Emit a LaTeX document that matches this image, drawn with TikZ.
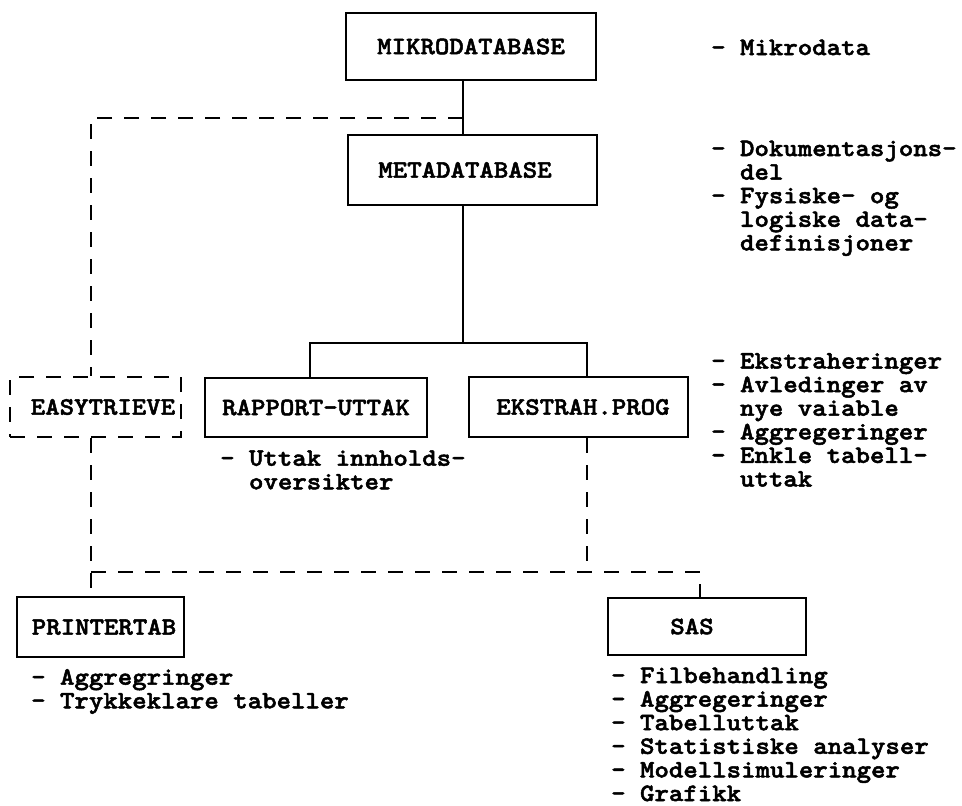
\documentclass[tikz,border=0pt]{standalone}
\usepackage{fontspec}
\newfontfamily\tw{lmmonolt10-bold.otf}[FakeStretch=1.1,FakeBold=2]
\newcommand\myfont{\tw\fontsize{25}{23.6}\selectfont\lineskiplimit=-100pt\relax}
\begin{document}
\begin{tikzpicture}[x=1pt,y=-1pt,
  every node/.style={font=\myfont},
  box/.style={draw,line width=2.8pt,inner sep=0pt,align=center},
  dbox/.style={box,dash pattern=on 15pt off 12pt},
  txt/.style={anchor=base west,inner sep=0pt,align=left},
  conn/.style={line width=2.6pt},
  dconn/.style={line width=2.6pt,dash pattern=on 15pt off 12pt}]
\useasboundingbox (0,0) rectangle (962,806);
\fill[white] (0,0) rectangle (962,806);
% boxes
\node[box,minimum width=250pt,minimum height=67pt] (mikro) at (471,46.5) {MIKRODATABASE};
\node[box,minimum width=249pt,minimum height=70pt] (meta) at (472.5,170) {METADATABASE\hspace{15pt}};
\node[dbox,minimum width=171pt,minimum height=60pt] (easy) at (95.5,407) {\hspace{15pt}EASYTRIEVE};
\node[box,minimum width=222pt,minimum height=59pt] (rap) at (316,407.5) {RAPPORT-UTTAK};
\node[box,minimum width=219pt,minimum height=60pt] (eks) at (578.5,407) {\hspace{9pt}EKSTRAH.PROG};
\node[box,minimum width=167pt,minimum height=60pt] (prt) at (100.5,627) {\hspace{7pt}PRINTERTAB};
\node[box,minimum width=198pt,minimum height=57pt] (sas) at (707,626.5) {SAS\hspace{30pt}};
% texts (anchored at the baseline of the last line)
\node[txt] (tmikro) at (711,55) {- Mikrodata};
\node[txt] (tmeta) at (711,250.4) {- Dokumentasjons-\\\hphantom{xx}del\\- Fysiske- og\\\hphantom{xx}logiske data-\\\hphantom{xx}definisjoner};
\node[txt] (teks) at (711,486.5) {- Ekstraheringer\\- Avledinger av\\\hphantom{xx}nye vaiable\\- Aggregeringer\\- Enkle tabell-\\\hphantom{xx}uttak};
\node[txt] (trap) at (220,489.3) {- Uttak innholds-\\\hphantom{xx}oversikter};
\node[txt] (tprt) at (31,708.3) {- Aggregringer\\- Trykkeklare tabeller};
\node[txt] (tsas) at (611,801) {- Filbehandling\\- Aggregeringer\\- Tabelluttak\\- Statistiske analyser\\- Modellsimuleringer\\- Grafikk};
% helper coordinates
\coordinate (sp) at (463,0);
\coordinate (bus) at (0,343);
\coordinate (rapx) at (310,0);
\coordinate (eksx) at (587,0);
\coordinate (lx) at (91,0);
\coordinate (top) at (0,118);
\coordinate (low) at (0,572);
\coordinate (sasx) at (700,0);
% solid connectors
\draw[conn] (mikro.south -| sp) -- (meta.north -| sp);
\draw[conn] (meta.south -| sp) -- (sp |- bus);
\draw[conn] (rap.north -| rapx) -- (rapx |- bus) -- (eksx |- bus) -- (eks.north -| eksx);
% dashed connectors
\draw[dconn] (sp |- top) -- (lx |- top) -- (easy.north -| lx);
\draw[dconn] (easy.south -| lx) -- (prt.north -| lx);
\draw[dconn] (lx |- low) -- (sasx |- low) -- (sas.north -| sasx);
\draw[dconn] (eks.south -| eksx) -- (eksx |- low);
\end{tikzpicture}
\end{document}
